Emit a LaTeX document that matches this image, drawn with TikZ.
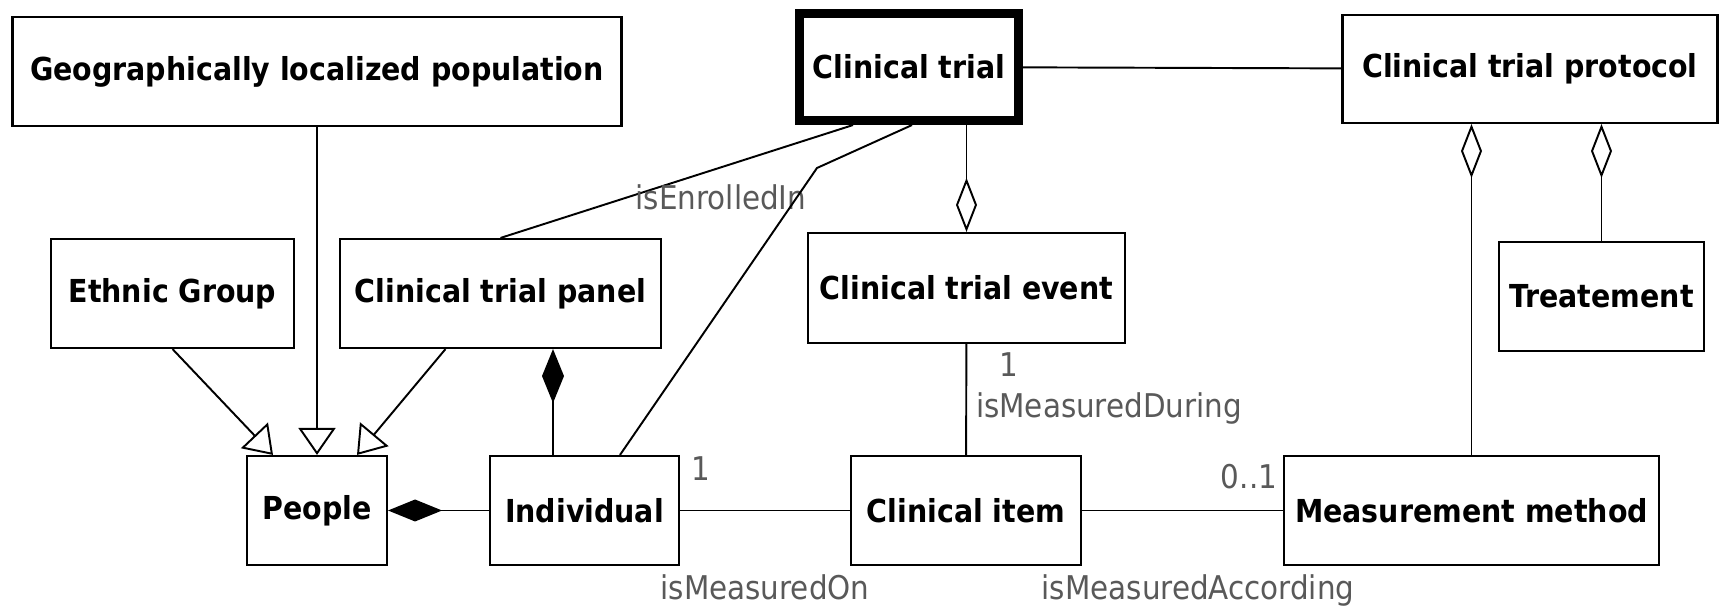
\documentclass[tikz,border=0pt]{standalone}
\usepackage{fontspec}
\newfontfamily\boxfont{DejaVu Sans Condensed Bold}
\newfontfamily\rolefont{DejaVu Sans Condensed}
\usetikzlibrary{positioning, arrows.meta}

\tikzset{
  cls/.style={draw, line width=0.6pt, minimum height=1.09cm, inner sep=0pt,
    font=\boxfont\fontsize{9}{11}\selectfont},
  rolename/.style={text=black!65, inner sep=0pt,
    font=\rolefont\fontsize{9.3}{11}\selectfont},
  assoc/.style={line width=0.55pt},
  generalize/.style={assoc, -{Triangle[open, length=0.27cm, width=0.37cm]}},
  composed/.style={assoc, -{Diamond[length=0.54cm, width=0.22cm]}},
  aggregated/.style={assoc, -{Diamond[open, length=0.54cm, width=0.21cm]}}
}

\begin{document}
\begin{tikzpicture}
    \useasboundingbox (0,0) rectangle (17.22,-6.10);

    % Classes
    \node[cls, minimum width=6.09cm] (geo) at (3.17,-0.715) {Geographically localized population};
    \node[cls, line width=2.6pt, minimum width=2.19cm, minimum height=1.07cm] (trial) at (9.09,-0.67) {Clinical trial};
    \node[cls, minimum width=3.75cm, minimum height=1.08cm] (protocol) at (15.30,-0.69) {Clinical trial protocol};
    \node[cls, minimum width=2.43cm] (ethnic) at (1.725,-2.935) {Ethnic Group};
    \node[cls, minimum width=3.21cm] (panel) at (5.005,-2.935) {Clinical trial panel};
    \node[cls, minimum width=3.17cm, minimum height=1.10cm] (event) at (9.665,-2.88) {Clinical trial event};
    \node[cls, minimum width=2.05cm] (treat) at (16.015,-2.965) {Treatement};
    \node[cls, minimum width=1.40cm] (people) at (3.17,-5.105) {People};
    \node[cls, minimum width=1.89cm] (indiv) at (5.845,-5.105) {Individual};
    \node[cls, minimum width=2.30cm] (item) at (9.66,-5.105) {Clinical item};
    \node[cls, minimum width=3.75cm] (method) at (14.715,-5.105) {Measurement method};

    % Generalizations
    \draw[generalize] (geo) -- (people);
    \draw[generalize] (ethnic.south) -- ([xshift=-0.44cm]people.north);
    \draw[generalize] ([xshift=-0.55cm]panel.south) -- ([xshift=0.40cm]people.north);

    % Compositions and aggregations
    \draw[composed] (indiv) -- (people);
    \draw[composed] ([xshift=-0.315cm]indiv.north) -- ([xshift=0.525cm]panel.south);
    \draw[aggregated] (event.north |- trial.south) -- (event.north);
    \draw[aggregated] (method) -- (method.north |- protocol.south);
    \draw[aggregated] (treat) -- (treat.north |- protocol.south);

    % Associations
    \draw[assoc] (trial) -- (protocol);
    \draw[assoc] ([xshift=-0.56cm]trial.south) -- (panel.north);
    \node[rolename] (enrolled) at (7.21,-1.97) {isEnrolledIn};
    \coordinate (bend) at (8.17,-1.68);
    \draw[assoc] ([xshift=0.03cm]trial.south) -- (bend) -- ([xshift=0.355cm]indiv.north);

    \draw[assoc] (event) -- (item);
    \node[rolename] (eventmult) at (10.09,-3.65) {1};
    \node[rolename] (during) at (11.09,-4.08) {isMeasuredDuring};

    \draw[assoc] (indiv) -- (item);
    \node[rolename] (indivmult) at (7.01,-4.69) {1};
    \node[rolename] (on) at (7.65,-5.87) {isMeasuredOn};

    \draw[assoc] (item) -- (method);
    \node[rolename] (methodmult) at (12.49,-4.77) {0..1};
    \node[rolename] (according) at (11.98,-5.90) {isMeasuredAccording};
\end{tikzpicture}
\end{document}
